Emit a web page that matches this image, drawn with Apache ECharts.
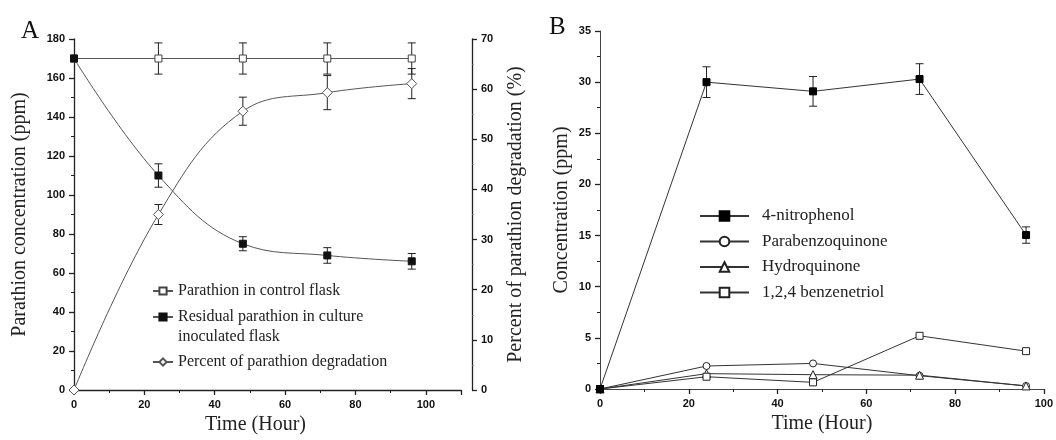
<!DOCTYPE html>
<html>
<head>
<meta charset="utf-8">
<script src="https://cdn.jsdelivr.net/npm/echarts@6/dist/echarts.min.js"></script>
<style>html,body{margin:0;padding:0;background:#fff}#c{width:1056px;height:440px}</style>
</head>
<body>
<div id="c"></div>
<script>
// ---- Panel A data ----
const hours = [0, 24, 48, 72, 96];
const controlA = [170, 170, 170, 170, 170];
const controlErr = [0, 8, 8, 8, 8];
const residualA = [170, 110, 75, 69, 66];
const residualErr = [0, 6, 3.6, 4, 4];
const percentA = [0, 35, 55.6, 59.3, 61.1];
const percentErr = [0, 2, 2.8, 3.4, 3];
// ---- Panel B data ----
const nitrophenol = [0, 30, 29.1, 30.3, 15.05];
const nitrophenolErr = [0, 1.5, 1.45, 1.5, 0.8];
const parabenzoquinone = [0, 2.25, 2.5, 1.3, 0.3];
const hydroquinone = [0, 1.5, 1.4, 1.35, 0.3];
const benzenetriol = [0, 1.2, 0.65, 5.2, 3.7];
// ---- labels ----
const namesA = ['Parathion in control flask', 'Residual parathion in culture\ninoculated flask', 'Percent of parathion degradation'];
const namesB = ['4-nitrophenol', 'Parabenzoquinone', 'Hydroquinone', '1,2,4 benzenetriol'];

const serif = '"Liberation Serif", "DejaVu Serif", serif';
const sans = '"Liberation Sans", Arial, sans-serif';

function pairs(v) { return hours.map((h, i) => [h, v[i]]); }
function triples(v, e) { return hours.map((h, i) => [h, v[i], e[i]]); }

function errRender(params, api) {
  const x = api.value(0), y = api.value(1), e = api.value(2);
  if (!e) return null;
  const t = api.coord([x, y + e]), b = api.coord([x, y - e]);
  const w = 4;
  const st = { stroke: '#222', lineWidth: 1 };
  return {
    type: 'group', children: [
      { type: 'line', shape: { x1: t[0], y1: t[1], x2: b[0], y2: b[1] }, style: st },
      { type: 'line', shape: { x1: t[0] - w, y1: t[1], x2: t[0] + w, y2: t[1] }, style: st },
      { type: 'line', shape: { x1: b[0] - w, y1: b[1], x2: b[0] + w, y2: b[1] }, style: st }
    ]
  };
}

function axisCommon(extra) {
  return Object.assign({
    axisLine: { show: true, onZero: false, lineStyle: { color: '#222', width: 1.3 } },
    axisTick: { show: true, length: 5, lineStyle: { color: '#222', width: 1.3 } },
    minorTick: { show: true, splitNumber: 2, length: 3, lineStyle: { color: '#222', width: 1 } },
    splitLine: { show: false },
    axisLabel: { fontFamily: sans, fontWeight: 'bold', fontSize: 11, color: '#111', margin: 9 },
    nameTextStyle: { fontFamily: serif, fontSize: 20, color: '#222' },
    nameLocation: 'middle'
  }, extra);
}

function legendA(name, top, lead) {
  return { data: [name], orient: 'vertical', left: 152, top: top, padding: 0, itemWidth: 20, itemHeight: 9,
    textStyle: { fontFamily: serif, fontSize: 16, color: '#222', lineHeight: 20 }, selectedMode: false,
    formatter: lead ? (n => ' \n' + n) : (n => n) };
}

const chart = echarts.init(document.getElementById('c'), null, { renderer: 'canvas' });
const option = {
  animation: false,
  backgroundColor: '#fff',
  title: [
    { text: 'A', left: 16, top: 14, textStyle: { fontFamily: serif, fontSize: 25, fontWeight: 'normal', color: '#111' } },
    { text: 'B', left: 544, top: 10, textStyle: { fontFamily: serif, fontSize: 25, fontWeight: 'normal', color: '#111' } }
  ],
  grid: [
    { left: 74, top: 39, width: 387, height: 351 },
    { left: 600, top: 31, width: 445, height: 358 }
  ],
  xAxis: [
    axisCommon({ gridIndex: 0, type: 'value', min: 0, max: 110, interval: 20, name: 'Time (Hour)', nameGap: 22,
      nameTextStyle: { fontFamily: serif, fontSize: 20, color: '#222', padding: [0, 24, 0, 0] },
      axisLabel: { fontFamily: sans, fontWeight: 'bold', fontSize: 11, color: '#111', margin: 9, showMaxLabel: false } }),
    axisCommon({ gridIndex: 1, type: 'value', min: 0, max: 100, interval: 20, name: 'Time (Hour)', nameGap: 22,
      axisLine: { show: true, onZero: false, lineStyle: { color: '#444', width: 1 } } })
  ],
  yAxis: [
    axisCommon({ gridIndex: 0, type: 'value', min: 0, max: 180, interval: 20, name: 'Parathion concentration (ppm)', nameGap: 44 }),
    axisCommon({ gridIndex: 0, type: 'value', min: 0, max: 70, interval: 10, position: 'right', offset: 11,
      name: 'Percent of parathion degradation (%)', nameGap: 34,
      minorTick: { show: true, splitNumber: 2, length: 1.5, lineStyle: { color: '#666', width: 1 } } }),
    axisCommon({ gridIndex: 1, type: 'value', min: 0, max: 35, interval: 5, name: 'Concentration (ppm)', nameGap: 28,
      axisLine: { show: true, onZero: false, lineStyle: { color: '#444', width: 1 } } })
  ],
  legend: [
    legendA(namesA[0], 281, false),
    legendA(namesA[1], 287, true),
    legendA(namesA[2], 352, false),
    { data: namesB, orient: 'vertical', left: 699, top: 206, padding: 0, itemWidth: 49, itemHeight: 12, itemGap: 5.5,
      textStyle: { fontFamily: serif, fontSize: 17, color: '#222', lineHeight: 20, padding: [0, 0, 0, 8] }, selectedMode: false }
  ],
  series: [
    // Panel A
    { type: 'custom', xAxisIndex: 0, yAxisIndex: 0, renderItem: errRender, data: triples(controlA, controlErr), z: 1, silent: true },
    { type: 'custom', xAxisIndex: 0, yAxisIndex: 0, renderItem: errRender, data: triples(residualA, residualErr), z: 1, silent: true },
    { type: 'custom', xAxisIndex: 0, yAxisIndex: 1, renderItem: errRender, data: triples(percentA, percentErr), z: 1, silent: true },
    { name: namesA[0], type: 'line', xAxisIndex: 0, yAxisIndex: 0, data: pairs(controlA), symbol: 'rect', symbolSize: 7,
      lineStyle: { color: '#555', width: 1 }, itemStyle: { color: '#fff', borderColor: '#444', borderWidth: 1 }, z: 2 },
    { name: namesA[1], type: 'line', xAxisIndex: 0, yAxisIndex: 0, data: pairs(residualA), symbol: 'rect', symbolSize: 7, smooth: 0.4,
      lineStyle: { color: '#555', width: 1 }, itemStyle: { color: '#111', borderColor: '#111', borderWidth: 1 }, z: 3 },
    { name: namesA[2], type: 'line', xAxisIndex: 0, yAxisIndex: 1, data: pairs(percentA), symbol: 'diamond', symbolSize: 10, smooth: 0.4,
      lineStyle: { color: '#555', width: 1 }, itemStyle: { color: '#fff', borderColor: '#555', borderWidth: 1 }, z: 2 },
    // Panel B
    { type: 'custom', xAxisIndex: 1, yAxisIndex: 2, renderItem: errRender, data: triples(nitrophenol, nitrophenolErr), z: 1, silent: true },
    { name: namesB[0], type: 'line', xAxisIndex: 1, yAxisIndex: 2, data: pairs(nitrophenol), symbol: 'rect', symbolSize: 7,
      lineStyle: { color: '#333', width: 1 }, itemStyle: { color: '#000', borderColor: '#000', borderWidth: 1 }, z: 3 },
    { name: namesB[1], type: 'line', xAxisIndex: 1, yAxisIndex: 2, data: pairs(parabenzoquinone), symbol: 'circle', symbolSize: 7,
      lineStyle: { color: '#333', width: 1 }, itemStyle: { color: '#fff', borderColor: '#222', borderWidth: 1 }, z: 2 },
    { name: namesB[2], type: 'line', xAxisIndex: 1, yAxisIndex: 2, data: pairs(hydroquinone), symbol: 'triangle', symbolSize: 8,
      lineStyle: { color: '#333', width: 1 }, itemStyle: { color: '#fff', borderColor: '#222', borderWidth: 1 }, z: 2 },
    { name: namesB[3], type: 'line', xAxisIndex: 1, yAxisIndex: 2, data: pairs(benzenetriol), symbol: 'rect', symbolSize: 7,
      lineStyle: { color: '#333', width: 1 }, itemStyle: { color: '#fff', borderColor: '#222', borderWidth: 1 }, z: 2 }
  ]
};
chart.setOption(option);
</script>
</body>
</html>
